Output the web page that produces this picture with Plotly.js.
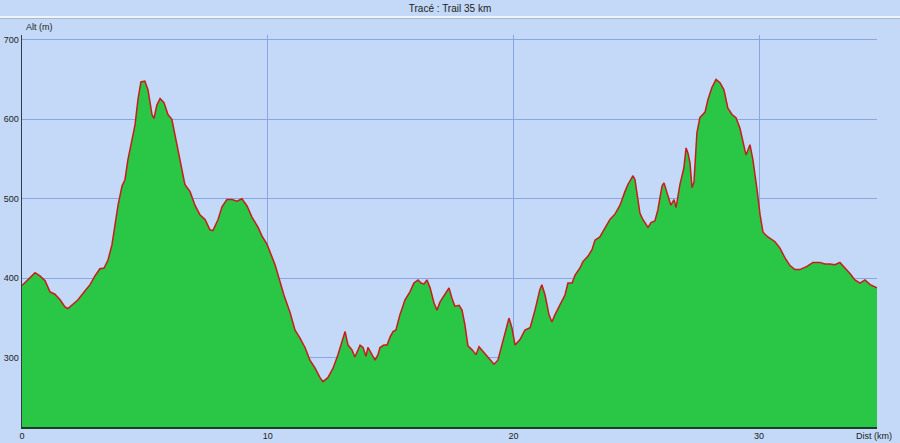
<!DOCTYPE html>
<html>
<head>
<meta charset="utf-8">
<script src="https://cdn.plot.ly/plotly-3.0.1.min.js"></script>
<style>html,body{margin:0;padding:0;background:#c3d9f7;}#chart{width:900px;height:443px;}</style>
</head>
<body>
<div id="chart"></div>
<script>
const dist = [0,0.24,0.53,0.73,0.94,1.14,1.34,1.55,1.75,1.87,2.04,2.28,2.56,2.77,2.97,3.17,3.34,3.5,3.66,3.79,3.91,4.07,4.19,4.31,4.48,4.6,4.72,4.84,5.0,5.13,5.29,5.37,5.49,5.62,5.78,5.94,6.1,6.23,6.43,6.63,6.84,7.04,7.24,7.45,7.65,7.77,7.98,8.14,8.34,8.55,8.75,8.95,9.16,9.36,9.61,9.77,9.97,10.09,10.3,10.5,10.66,10.91,11.11,11.31,11.52,11.72,11.93,12.13,12.25,12.45,12.66,12.86,13.02,13.15,13.27,13.43,13.55,13.68,13.76,13.88,14.0,14.08,14.25,14.37,14.49,14.57,14.73,14.86,14.98,15.1,15.22,15.38,15.59,15.79,15.95,16.12,16.24,16.36,16.48,16.61,16.77,16.89,17.01,17.22,17.38,17.5,17.62,17.79,17.91,18.03,18.15,18.32,18.48,18.6,18.76,18.93,19.13,19.21,19.37,19.54,19.7,19.82,19.94,20.07,20.27,20.47,20.68,20.88,21.08,21.16,21.29,21.45,21.57,21.69,21.9,22.1,22.22,22.39,22.51,22.71,22.83,23.04,23.2,23.32,23.52,23.73,23.93,24.14,24.34,24.54,24.66,24.87,24.95,25.15,25.27,25.48,25.6,25.76,25.88,26.05,26.13,26.29,26.41,26.54,26.62,26.78,26.94,27.03,27.11,27.19,27.27,27.35,27.47,27.59,27.8,27.92,28.08,28.25,28.41,28.57,28.73,28.9,29.06,29.22,29.38,29.47,29.63,29.75,29.92,30.04,30.16,30.36,30.65,30.85,31.05,31.26,31.46,31.66,31.95,32.19,32.48,32.68,32.89,33.09,33.29,33.5,33.7,33.9,34.11,34.31,34.52,34.8];
const alt = [391,398,407,403,397,383,380,373,364,362,367,373,384,392,403,412,413,423,442,467,492,516,524,549,574,593,625,647,648,637,606,601,618,626,621,606,600,581,549,518,509,492,480,474,461,460,474,490,499,499,497,500,491,477,464,453,443,433,417,396,379,357,335,325,313,297,287,275,270,275,287,304,320,333,316,310,301,310,316,313,302,313,304,297,304,313,316,316,326,333,335,354,373,383,394,398,394,393,398,388,369,360,370,380,388,375,365,366,360,341,315,310,304,314,308,303,295,292,297,316,335,350,338,316,323,335,338,360,386,392,379,354,345,354,367,379,394,394,404,413,421,428,436,448,452,464,474,481,492,509,518,529,524,482,474,464,470,472,486,516,520,504,492,499,489,518,539,564,557,545,514,521,583,602,609,625,640,650,646,637,614,606,602,589,565,555,568,549,511,480,458,452,446,438,426,416,411,411,415,420,420,418,418,417,420,413,406,398,394,398,392,388];
const xTicks = [0,10,20,30];
const yTicks = [300,400,500,600,700];
const titleText = 'Tracé : Trail 35 km';

const bg = 'rgb(195,217,247)';
const gridC = 'rgb(136,166,228)';
const font = {family: 'Liberation Sans, Arial, sans-serif', size: 9, color: '#222'};

const trace = {
  x: dist, y: alt, type: 'scatter', mode: 'lines',
  fill: 'tozeroy', fillcolor: 'rgb(41,199,69)',
  line: {color: 'rgb(200,28,28)', width: 1.5},
  hoverinfo: 'skip'
};

const layout = {
  width: 900, height: 443,
  margin: {l: 22, r: 23, t: 35, b: 16, pad: 0},
  paper_bgcolor: bg, plot_bgcolor: bg,
  showlegend: false,
  font: font,
  title: {text: titleText, x: 0.5, xanchor: 'center', y: 1 - 8.5/443, yanchor: 'middle', yref: 'container',
          font: {family: 'Liberation Sans, Arial, sans-serif', size: 10, color: '#222'}},
  xaxis: {range: [0, 34.8], tickvals: xTicks, ticktext: xTicks.map(String),
          showgrid: true, gridcolor: gridC, gridwidth: 1, zeroline: false,
          showline: true, linecolor: '#1e3a28', linewidth: 1.5, ticks: '', ticklen: 0,
          tickfont: font, fixedrange: true},
  yaxis: {range: [213, 706], tickvals: yTicks, ticktext: yTicks.map(String),
          showgrid: true, gridcolor: gridC, gridwidth: 1, zeroline: false,
          showline: true, linecolor: '#333a4a', linewidth: 1.3, ticks: '', ticklen: 0,
          tickfont: font, fixedrange: true},
  shapes: [
    {type: 'line', xref: 'paper', yref: 'paper', x0: -0.03, x1: 1.03, y0: (427-17)/392, y1: (427-17)/392,
     line: {color: 'rgb(238,244,252)', width: 2}},
    {type: 'line', xref: 'paper', yref: 'paper', x0: -0.03, x1: 1.03, y0: (427-18.5)/392, y1: (427-18.5)/392,
     line: {color: 'rgb(170,185,205)', width: 1}}
  ],
  annotations: [
    {text: 'Alt (m)', xref: 'paper', yref: 'paper', x: 0.002, y: (427-27)/392, xanchor: 'left', yanchor: 'middle',
     showarrow: false, font: font},
    {text: 'Dist (km)', xref: 'paper', yref: 'paper', x: 1.02, y: -9/392, xanchor: 'right', yanchor: 'middle',
     showarrow: false, font: font}
  ]
};

Plotly.newPlot('chart', [trace], layout, {displayModeBar: false, staticPlot: true});
</script>
</body>
</html>
